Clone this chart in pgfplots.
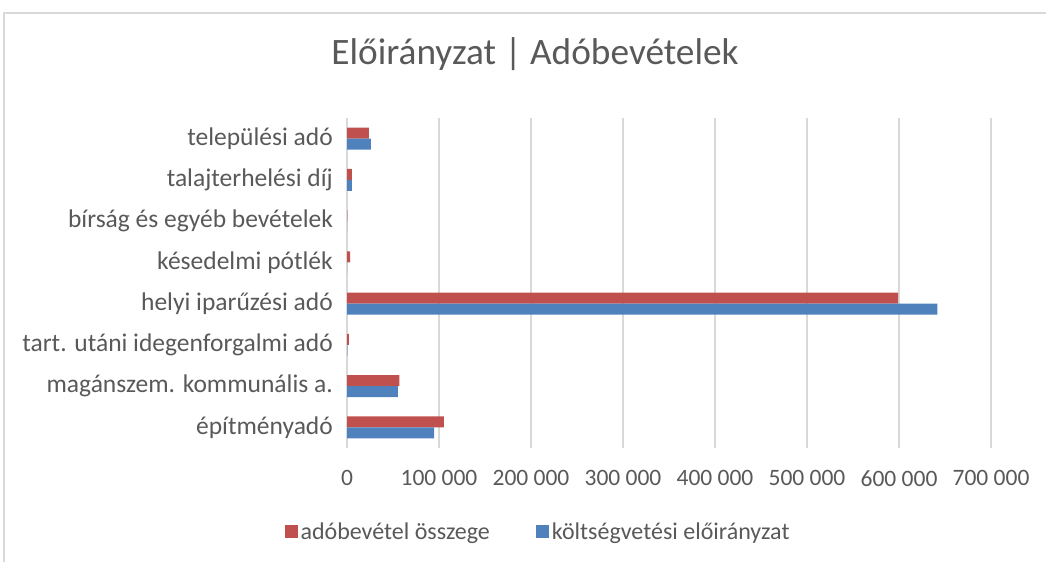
\documentclass[border=0pt]{standalone}
\usepackage{pgfplots}
\pgfplotsset{compat=1.18}
\usepackage{fontspec}
\setmainfont{Carlito}
\definecolor{redbar}{HTML}{C0504D}
\definecolor{bluebar}{HTML}{4F81BD}
\definecolor{txt}{HTML}{595959}
\definecolor{gridc}{HTML}{D9D9D9}
\begin{document}
\begin{tikzpicture}
\path[use as bounding box] (0,0) rectangle (1046bp,562bp);
\draw[color=gridc, line width=1.5bp] (4bp,0) -- (4bp,549bp) -- (1046bp,549bp);
\begin{axis}[
  at={(347bp,114bp)}, anchor=south west, scale only axis,
  width=644bp, height=330bp,
  xmin=0, xmax=700000, ymin=-0.5, ymax=7.5,
  axis line style={draw=none}, major tick length=0,
  scaled x ticks=false,
  xtick={0,100000,200000,300000,400000,500000,600000,700000},
  xticklabels={0,100 000,200 000,300 000,400 000,500 000,600 000,700 000},
  ytick={0,1,2,3,4,5,6,7},
  yticklabels={építményadó,magánszem. kommunális a.,tart. utáni idegenforgalmi adó,helyi iparűzési adó,késedelmi pótlék,bírság és egyéb bevételek,talajterhelési díj,települési adó},
  xmajorgrids, grid style={color=gridc, line width=1.5bp},
  ticklabel style={text=txt},
  xticklabel style={font=\fontsize{23.5bp}{28bp}\selectfont, anchor=north, inner sep=0pt, yshift=-22bp},
  yticklabel style={font=\fontsize{25.5bp}{30bp}\selectfont, anchor=east, inner sep=0pt, xshift=-14bp},
  /pgf/number format/assume math mode=true,
  title={Előirányzat | Adóbevételek},
  title style={at={(0.292,1.176)}, anchor=center, inner sep=0pt, font=\fontsize{37.3bp}{44bp}\selectfont, text=txt},
  legend columns=2,
  legend cell align=left,
  legend style={at={(0.2974,-0.2545)}, anchor=center, draw=none, fill=none,
    font=\fontsize{24bp}{29bp}\selectfont, text=txt,
    nodes={inner sep=2.5bp},
    /tikz/every even column/.append style={column sep=44bp}},
  legend image code/.code={\fill[#1] (0bp,-6.5bp) rectangle (13bp,6.5bp);},
]
\addplot[xbar, fill=redbar, draw=none, bar width=11bp, bar shift=5.5bp]
  coordinates {(105400,0) (56900,1) (2000,2) (599000,3) (3300,4) (300,5) (5400,6) (23900,7)};
\addlegendentry{adóbevétel összege}
\addplot[xbar, fill=bluebar, draw=none, bar width=11bp, bar shift=-5.5bp]
  coordinates {(94600,0) (55400,1) (300,2) (641600,3) (0,4) (0,5) (5400,6) (26000,7)};
\addlegendentry{költségvetési előirányzat}
\end{axis}
\end{tikzpicture}
\end{document}
